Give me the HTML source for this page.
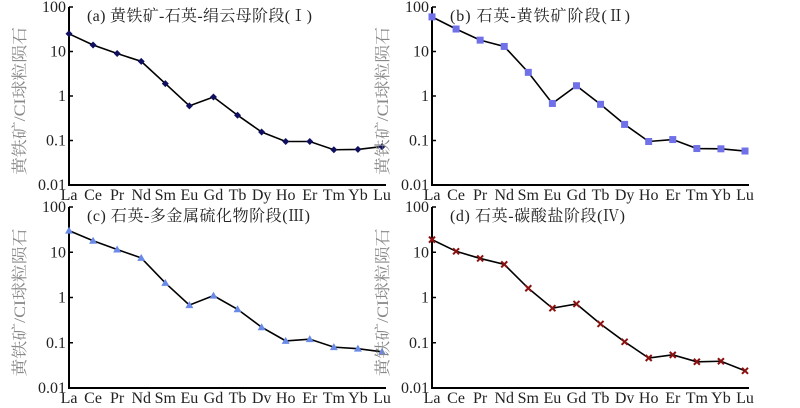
<!DOCTYPE html>
<html><head><meta charset="utf-8"><style>
body{margin:0;background:#fff;}
svg text{font-family:"Liberation Serif","Noto Serif CJK SC",serif;}
</style></head><body>
<svg id="chart" width="800" height="403" xmlns="http://www.w3.org/2000/svg"></svg>
<script>
const categories=["La","Ce","Pr","Nd","Sm","Eu","Gd","Tb","Dy","Ho","Er","Tm","Yb","Lu"];
const yTicks=[100,10,1,0.1,0.01];
const yTickLabels=["100","10","1","0.1","0.01"];
const seriesA=[25,14,9,6,1.9,0.6,0.95,0.37,0.155,0.095,0.095,0.062,0.063,0.073];
const seriesB=[60,32,18,13,3.4,0.68,1.7,0.65,0.23,0.095,0.105,0.066,0.065,0.058];
const seriesC=[30,18,11.5,7.5,2.1,0.68,1.1,0.55,0.22,0.11,0.12,0.08,0.074,0.063];
const seriesD=[19,10.5,7.3,5.4,1.6,0.58,0.72,0.26,0.105,0.046,0.054,0.038,0.039,0.024];
const titles=["(a)  黄铁矿-石英-绢云母阶段(Ⅰ)","(b)  石英-黄铁矿阶段(Ⅱ)","(c)  石英-多金属硫化物阶段(Ⅲ)","(d)  石英-碳酸盐阶段(Ⅳ)"];
const NS="http://www.w3.org/2000/svg";
const svg=document.getElementById('chart');
function mk(tag,attrs,parent){const e=document.createElementNS(NS,tag);for(const k in attrs)e.setAttribute(k,attrs[k]);(parent||svg).appendChild(e);return e;}
const panels=[
 {x0:69,x1:382,y0:7,y1:185,data:seriesA,marker:'diamond',color:'#101060',id:'a',tw:225},
 {x0:432,x1:745,y0:7,y1:185,data:seriesB,marker:'square',color:'#7070e8',id:'b',tw:180},
 {x0:69,x1:382,y0:207,y1:388,data:seriesC,marker:'triangle',color:'#6a8ae8',id:'c',tw:223},
 {x0:432,x1:745,y0:207,y1:388,data:seriesD,marker:'x',color:'#8b1010',id:'d',tw:175}];
panels.forEach((p,pi)=>{
 const g=mk('g',{});
 
 
 const xs=i=>p.x0+(p.x1-p.x0)*i/(categories.length-1);
 const ys=v=>p.y0+(2-Math.log10(v))/4*(p.y1-p.y0);
 const ax=mk('path',{d:`M${p.x0},${p.y0} V${p.y1} H${p.x1+4}`,stroke:'#000','stroke-width':2,fill:'none'},g);
 
 
 yTicks.forEach((t,i)=>{
  const y=ys(t);
  mk('line',{x1:p.x0,x2:p.x0+4,y1:y,y2:y,stroke:'#000','stroke-width':1.5},g);
  const tl=mk('text',{x:p.x0-3,y:y+5,'text-anchor':'end','font-size':16,fill:'#222'},g);
  tl.textContent=yTickLabels[i];
  
  
 });
 categories.forEach((c,i)=>{
  const tl=mk('text',{x:xs(i),y:p.y1+15,'text-anchor':'middle','font-size':16,fill:'#222'},g);
  tl.textContent=c;
  
  
 });
 const yt=mk('text',{transform:`translate(${p.x0-44},${(p.y0+p.y1)/2+5}) rotate(-90)`,'text-anchor':'middle','font-size':16,fill:'#888',textLength:148,lengthAdjust:'spacingAndGlyphs'},g);
 yt.textContent='黄铁矿/CI球粒陨石';
 
 
 const tt=mk('text',{x:p.x0+18,y:p.y0+14,'font-size':16,fill:'#222',textLength:p.tw,lengthAdjust:'spacing'},g);
 tt.textContent=titles[pi];
 
 
 const pts=p.data.map((v,i)=>xs(i)+','+ys(v)).join(' ');
 const ln=mk('polyline',{points:pts,fill:'none',stroke:'#000','stroke-width':1.6},g);
 
 
 p.data.forEach((v,i)=>{
  const x=xs(i),y=ys(v);let m;
  if(p.marker==='diamond')m=mk('polygon',{points:`${x},${y-3.5} ${x+3.5},${y} ${x},${y+3.5} ${x-3.5},${y}`,fill:p.color},g);
  else if(p.marker==='square')m=mk('rect',{x:x-3.5,y:y-3.5,width:7,height:7,fill:p.color},g);
  else if(p.marker==='triangle')m=mk('polygon',{points:`${x},${y-4} ${x+4},${y+3} ${x-4},${y+3}`,fill:p.color},g);
  else m=mk('path',{d:`M${x-3},${y-3}L${x+3},${y+3}M${x-3},${y+3}L${x+3},${y-3}`,stroke:p.color,'stroke-width':2},g);
  
  
 });
});
</script>
</body></html>
